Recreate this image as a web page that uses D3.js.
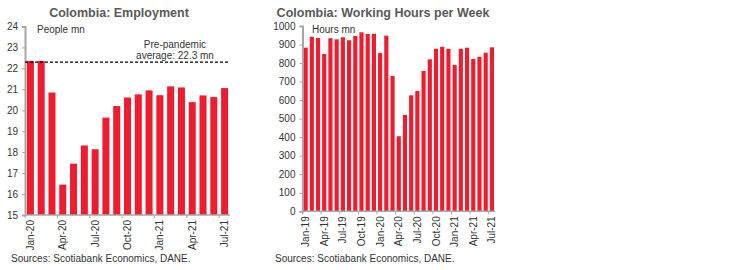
<!DOCTYPE html>
<html>
<head>
<meta charset="utf-8">
<script src="https://cdn.jsdelivr.net/npm/d3@7"></script>
<style>
  body { margin: 0; background: #fff; }
  svg { font-family: "Liberation Sans", Arial, sans-serif; }
  .tick text { fill: #333; font-size: 10px; }
</style>
</head>
<body>
<svg id="chart" width="750" height="270"></svg>
<script>
// employment, people mn
var empMonths = ['Jan-20','Feb-20','Mar-20','Apr-20','May-20','Jun-20','Jul-20','Aug-20','Sep-20','Oct-20',
                 'Nov-20','Dec-20','Jan-21','Feb-21','Mar-21','Apr-21','May-21','Jun-21','Jul-21'];
var empValues = [22.36, 22.36, 20.85, 16.45, 17.45, 18.32, 18.14, 19.65, 20.2, 20.61,
                 20.76, 20.95, 20.72, 21.14, 21.09, 20.39, 20.71, 20.63, 21.06];
var empTicks = [15, 16, 17, 18, 19, 20, 21, 22, 23, 24];
var preAvg = 22.3;

// working hours per week, hours mn
var hrsMonths = ['Jan-19','Feb-19','Mar-19','Apr-19','May-19','Jun-19','Jul-19','Aug-19','Sep-19','Oct-19',
                 'Nov-19','Dec-19','Jan-20','Feb-20','Mar-20','Apr-20','May-20','Jun-20','Jul-20','Aug-20',
                 'Sep-20','Oct-20','Nov-20','Dec-20','Jan-21','Feb-21','Mar-21','Apr-21','May-21','Jun-21','Jul-21'];
var hrsValues = [883, 942, 935, 849, 934, 928, 939, 923, 946, 966,
                 957, 958, 854, 948, 730, 405, 520, 626, 649, 757,
                 820, 877, 888, 877, 790, 877, 883, 822, 834, 856, 885];
var hrsTicks = [0, 100, 200, 300, 400, 500, 600, 700, 800, 900, 1000];

var red = '#ED1C2E';
var axisColor = '#a6a6a6';
var svg = d3.select('#chart');

function drawPanel(opts){
    var x = d3.scaleBand().domain(opts.months).range([opts.x0, opts.x1]).paddingInner(opts.pad).paddingOuter(opts.pad / 2);
    var y = d3.scaleLinear().domain(opts.domain).range([opts.y0, opts.y1]);
    var g = svg.append('g');

    // title
    g.append('text')
    .attr('x', opts.titleX).attr('y', 17)
    .attr('text-anchor', 'middle')
    .style('font-size', '12.5px').style('font-weight', 'bold').style('fill', '#595959')
    .text(opts.title);

    // bars
    g.selectAll('rect.bar')
    .data(opts.values)
    .enter().append('rect')
    .attr('class', 'bar')
    .attr('x', function(d, i){ return x(opts.months[i]); })
    .attr('width', x.bandwidth())
    .attr('y', function(d){ return y(d); })
    .attr('height', function(d){ return y(opts.domain[0]) - y(d); })
    .attr('fill', red);

    // y axis
    var yAxis = g.append('g')
    .attr('transform', 'translate(' + opts.x0 + ',0)')
    .call(d3.axisLeft(y).tickValues(opts.ticks).tickFormat(d3.format('d')).tickSize(3).tickPadding(4));
    yAxis.select('.domain').attr('stroke', axisColor).attr('stroke-width', 2);
    yAxis.selectAll('.tick line').attr('stroke', axisColor);

    // x axis: labels every 3 months at band centres, ticks at band edges
    var labelled = opts.months.filter(function(d, i){ return i % 3 === 0; });
    var xAxis = g.append('g')
    .attr('transform', 'translate(0,' + opts.y0 + ')')
    .call(d3.axisBottom(x).tickValues(labelled).tickSize(0).tickPadding(0));
    xAxis.select('.domain').attr('stroke', axisColor).attr('stroke-width', 1.5)
    .attr('d', 'M' + opts.x0 + ',0H' + opts.x1);
    xAxis.selectAll('.tick text')
    .attr('transform', 'rotate(-90)')
    .attr('x', -5).attr('y', 0).attr('dy', '0.35em')
    .style('text-anchor', 'end');

    var step = x.step();
    g.selectAll('line.xtick')
    .data(labelled)
    .enter().append('line')
    .attr('class', 'xtick')
    .attr('x1', function(d){ return x(d) - step * opts.pad / 2; })
    .attr('x2', function(d){ return x(d) - step * opts.pad / 2; })
    .attr('y1', opts.y0).attr('y2', opts.y0 + 3)
    .attr('stroke', axisColor);

    // unit label
    g.append('text')
    .attr('x', opts.unitX).attr('y', 33)
    .style('font-size', '10px').style('fill', '#333')
    .text(opts.unit);

    // sources
    g.append('text')
    .attr('x', opts.srcX).attr('y', 262)
    .style('font-size', '10px').style('fill', '#333')
    .text('Sources: Scotiabank Economics, DANE.');

    return {x: x, y: y, g: g};
}

var left = drawPanel({
    months: empMonths, values: empValues, ticks: empTicks,
    domain: [15, 24], x0: 25, x1: 230, y0: 215, y1: 26.5, pad: 0.35,
    title: 'Colombia: Employment', titleX: 119, unit: 'People mn', unitX: 37, srcX: 11
});

// pre-pandemic average
left.g.append('line')
.attr('x1', 25).attr('x2', 230)
.attr('y1', left.y(preAvg)).attr('y2', left.y(preAvg))
.attr('stroke', '#000').attr('stroke-width', 1.3).attr('stroke-dasharray', '3,2');

left.g.append('text')
.attr('x', 175).attr('y', 48)
.attr('text-anchor', 'middle')
.style('font-size', '10px').style('fill', '#333')
.text('Pre-pandemic');
left.g.append('text')
.attr('x', 175).attr('y', 59)
.attr('text-anchor', 'middle')
.style('font-size', '10px').style('fill', '#333')
.text('average: 22.3 mn');

drawPanel({
    months: hrsMonths, values: hrsValues, ticks: hrsTicks,
    domain: [0, 1000], x0: 302.5, x1: 495, y0: 211.3, y1: 26, pad: 0.33,
    title: 'Colombia: Working Hours per Week', titleX: 383, unit: 'Hours mn', unitX: 312, srcX: 275
});
</script>
</body>
</html>
